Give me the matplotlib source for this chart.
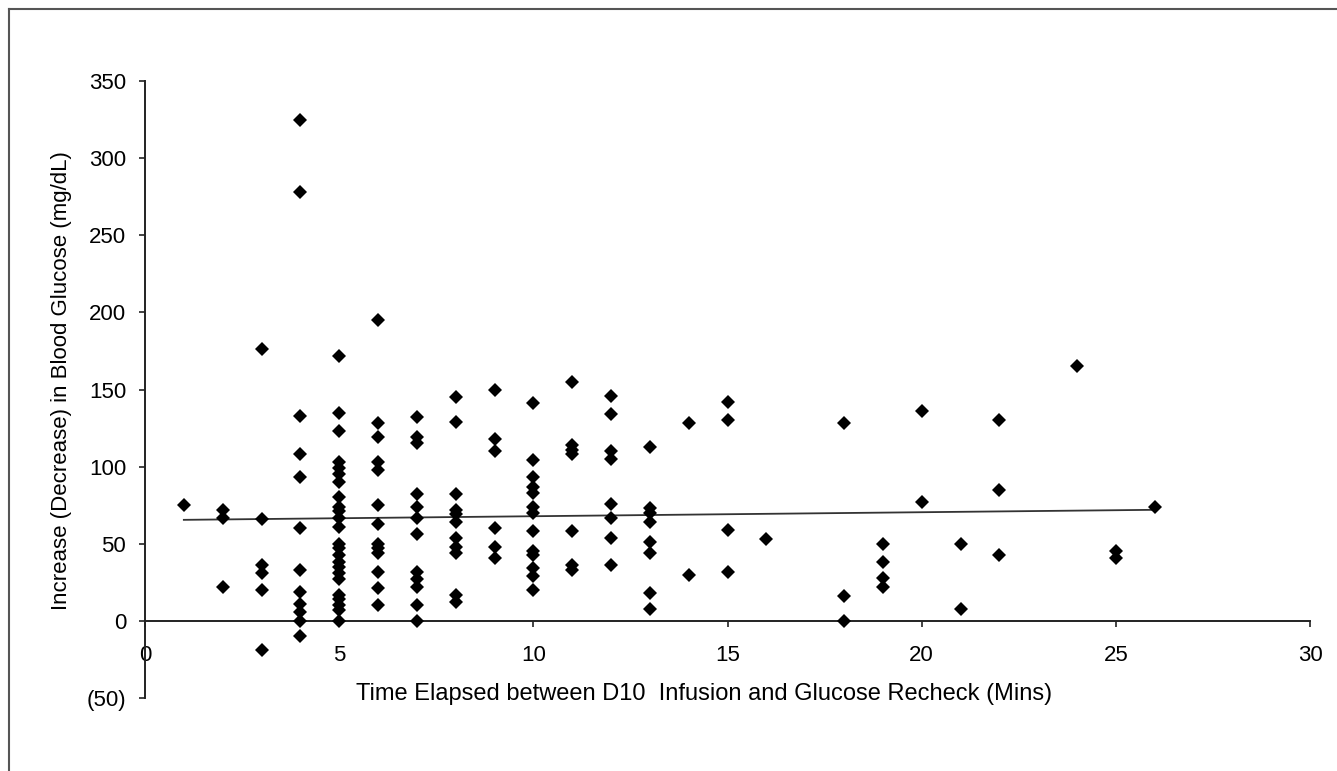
import numpy as np
import matplotlib
matplotlib.use('Agg')
import matplotlib.pyplot as plt
from matplotlib.lines import Line2D

plt.rcParams['font.family'] = ['Liberation Sans', 'DejaVu Sans']

# minutes between D10 infusion and recheck, and the readings seen at each
minutes = [1, 2, 3, 4, 5, 6, 7, 8, 9, 10, 11, 12, 13, 14, 15, 16, 18, 19, 20, 21, 22, 24, 25, 26]
increases = [
    [75],
    [72, 67, 22],
    [176, 66, 36, 31, 20, -19],
    [325, 278, 133, 108, 93, 60, 33, 19, 11, 6, 0, -10],
    [172, 135, 123, 103, 99, 95, 90, 80, 74, 71, 67, 61, 50, 47, 43, 38, 35, 31, 27, 17, 14, 10, 7, 0],
    [195, 128, 119, 103, 98, 75, 63, 50, 47, 44, 32, 21, 10],
    [132, 119, 115, 82, 74, 67, 56, 32, 27, 22, 10, 0],
    [145, 129, 82, 72, 69, 64, 54, 48, 44, 17, 12],
    [150, 118, 110, 60, 48, 41],
    [141, 104, 93, 87, 83, 74, 70, 58, 45, 43, 34, 29, 20],
    [155, 114, 111, 108, 58, 36, 33],
    [146, 134, 110, 105, 76, 67, 54, 36],
    [113, 73, 70, 64, 51, 44, 18, 8],
    [128, 30],
    [142, 130, 59, 32],
    [53],
    [128, 16, 0],
    [50, 38, 28, 22],
    [136, 77],
    [50, 8],
    [130, 85, 43],
    [165],
    [45, 41],
    [74],
]

# trend line as drawn in the original
trend_x = [1, 26]
trend_y = [65.5, 72]

y_ticks = [-50, 0, 50, 100, 150, 200, 250, 300, 350]
y_tick_labels = ['(50)', '0', '50', '100', '150', '200', '250', '300', '350']
x_ticks = [0, 5, 10, 15, 20, 25, 30]

xs = np.array([m for m, vals in zip(minutes, increases) for _ in vals], dtype=float)
ys = np.array([v for vals in increases for v in vals], dtype=float)

FONT_SIZE = 16


def main():
    fig = plt.figure(figsize=(13.37, 7.71), dpi=100)
    ax = fig.add_axes([145 / 1337, 73 / 771, 1165 / 1337, 617 / 771])

    ax.plot(xs, ys, linestyle='none', marker='D', markersize=7.5,
            color='black', markeredgewidth=0, zorder=3)
    ax.plot(trend_x, trend_y, color='#333333', linewidth=1.3, zorder=2)

    ax.set_xlim(0, 30)
    ax.set_ylim(-50, 350)
    ax.set_xticks(x_ticks)
    ax.set_yticks(y_ticks)
    ax.set_yticklabels(y_tick_labels)

    for side in ('top', 'right'):
        ax.spines[side].set_visible(False)
    ax.spines['bottom'].set_position(('data', 0))
    for side in ('left', 'bottom'):
        ax.spines[side].set_linewidth(1.4)
        ax.spines[side].set_color('#222222')

    ax.tick_params(axis='x', direction='out', length=4.5, width=1.2,
                   pad=13, labelsize=FONT_SIZE, color='#222222')
    ax.tick_params(axis='y', direction='out', length=4.5, width=1.2,
                   pad=9, labelsize=FONT_SIZE, color='#222222')

    ax.set_xlabel('Time Elapsed between D10  Infusion and Glucose Recheck (Mins)',
                  fontsize=17, ha='right', va='center')
    ax.set_ylabel('Increase (Decrease) in Blood Glucose (mg/dL)',
                  fontsize=FONT_SIZE, va='center')
    ax.xaxis.set_label_coords(0.7785, 0.0065)
    ax.yaxis.set_label_coords(-0.072, 0.515)

    # grey frame at the top and left edges of the picture
    fig.add_artist(Line2D([9 / 1337, 9 / 1337], [0, 1 - 9 / 771],
                          transform=fig.transFigure, color='#555555', linewidth=1.5))
    fig.add_artist(Line2D([9 / 1337, 1], [1 - 9 / 771, 1 - 9 / 771],
                          transform=fig.transFigure, color='#555555', linewidth=1.5))

    fig.savefig('out.png', dpi=100)


if __name__ == '__main__':
    main()
